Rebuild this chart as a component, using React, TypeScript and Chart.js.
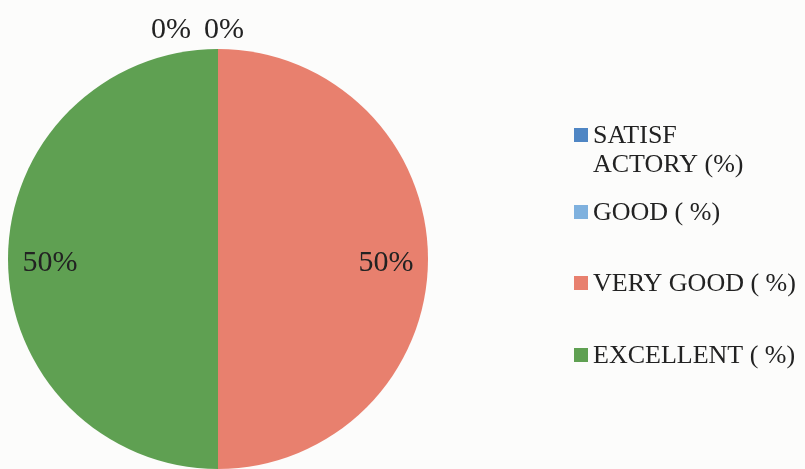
import React, { useEffect, useRef } from "react";
import { Chart, registerables } from "chart.js";

Chart.register(...registerables);

const categories = ["SATISFACTORY (%)", "GOOD ( %)", "VERY GOOD ( %)", "EXCELLENT ( %)"];
const legendLines = [["SATISF", "ACTORY (%)"], ["GOOD ( %)"], ["VERY GOOD ( %)"], ["EXCELLENT ( %)"]];
const values = [0, 0, 50, 50];
const colors = ["#4f86c4", "#7fb1de", "#e8806e", "#5fa052"];

const FONT = "'Liberation Serif', 'Times New Roman', serif";

const labelPlugin = {
  id: "sliceLabels",
  afterDatasetsDraw(chart: any) {
    const ctx = chart.ctx;
    const meta = chart.getDatasetMeta(0);
    const total = values.reduce((a, b) => a + b, 0);
    ctx.save();
    ctx.font = `30px ${FONT}`;
    ctx.fillStyle = "#222";
    ctx.textAlign = "center";
    ctx.textBaseline = "middle";
    let zeroIdx = 0;
    meta.data.forEach((arc: any, i: number) => {
      const { x, y, startAngle, endAngle, outerRadius } = arc.getProps(
        ["x", "y", "startAngle", "endAngle", "outerRadius"],
        true
      );
      const mid = (startAngle + endAngle) / 2;
      const pct = Math.round((values[i] / total) * 100) + "%";
      if (values[i] === 0) {
        const r = outerRadius + 19;
        const dx = zeroIdx === 0 ? -47 : 6;
        zeroIdx++;
        ctx.fillText(pct, x + Math.cos(mid) * r + dx, y + Math.sin(mid) * r);
      } else {
        const r = outerRadius * 0.8;
        ctx.fillText(pct, x + Math.cos(mid) * r, y + Math.sin(mid) * r + 4);
      }
    });
    ctx.restore();
  },
};

const legendPlugin = {
  id: "customLegend",
  afterDraw(chart: any) {
    const ctx = chart.ctx;
    const rowsY = [[135, 164], [212], [283], [355]];
    ctx.save();
    ctx.font = `26px ${FONT}`;
    ctx.textBaseline = "middle";
    ctx.textAlign = "left";
    legendLines.forEach((lines, i) => {
      const ys = rowsY[i];
      ctx.fillStyle = colors[i];
      ctx.fillRect(574, ys[0] - 7, 14, 14);
      ctx.fillStyle = "#222";
      lines.forEach((t, j) => ctx.fillText(t, 593, ys[j] + 1));
    });
    ctx.restore();
  },
};

const bgPlugin = {
  id: "bg",
  beforeDraw(chart: any) {
    const ctx = chart.ctx;
    ctx.save();
    ctx.fillStyle = "#fcfcfb";
    ctx.fillRect(0, 0, chart.width, chart.height);
    ctx.restore();
  },
};

export default function App() {
  const ref = useRef<HTMLCanvasElement>(null);
  useEffect(() => {
    if (!ref.current) return;
    const chart = new Chart(ref.current, {
      type: "pie",
      data: {
        labels: categories,
        datasets: [
          {
            data: values,
            backgroundColor: colors,
            borderWidth: 0,
          },
        ],
      },
      options: {
        responsive: false,
        animation: false,
        layout: { padding: { left: 8, right: 377, top: 49, bottom: 0 } },
        plugins: {
          legend: { display: false },
          tooltip: { enabled: false },
        },
      },
      plugins: [bgPlugin, labelPlugin, legendPlugin],
    });
    return () => chart.destroy();
  }, []);
  return (
    <div style={{ position: "fixed", left: 0, top: 0, width: 805, height: 469 }}>
      <canvas ref={ref} width={805} height={469} />
    </div>
  );
}
